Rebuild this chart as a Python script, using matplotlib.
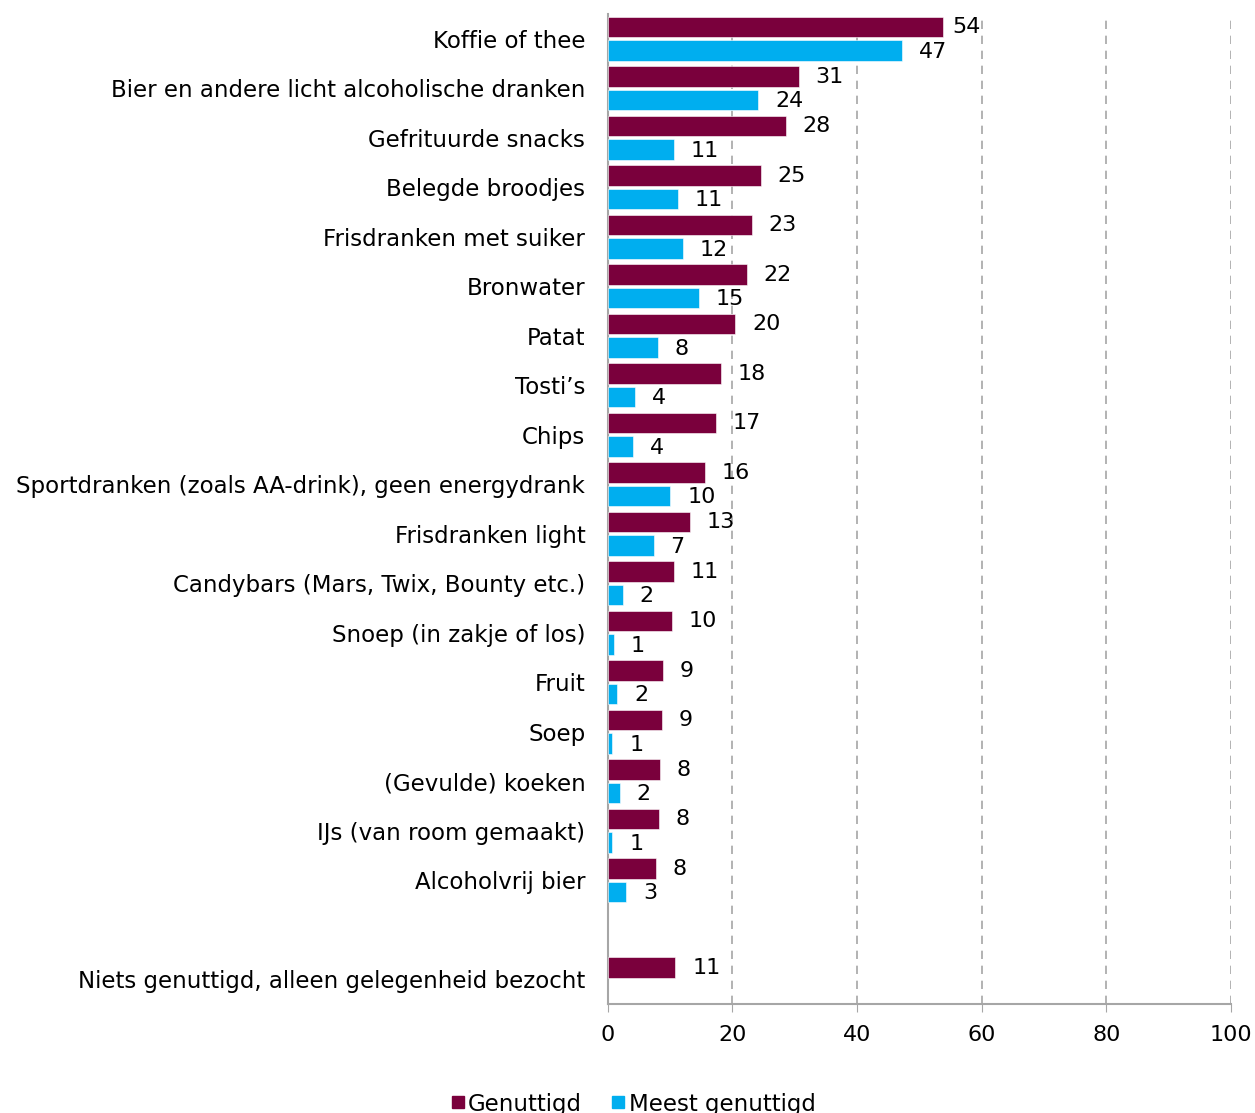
import numpy as np
import matplotlib
matplotlib.use("Agg")
import matplotlib.pyplot as plt
from matplotlib.lines import Line2D

# Data
categories = [
    "Koffie of thee",
    "Bier en andere licht alcoholische dranken",
    "Gefrituurde snacks",
    "Belegde broodjes",
    "Frisdranken met suiker",
    "Bronwater",
    "Patat",
    "Tosti\u2019s",
    "Chips",
    "Sportdranken (zoals AA-drink), geen energydrank",
    "Frisdranken light",
    "Candybars (Mars, Twix, Bounty etc.)",
    "Snoep (in zakje of los)",
    "Fruit",
    "Soep",
    "(Gevulde) koeken",
    "IJs (van room gemaakt)",
    "Alcoholvrij bier",
    "",
    "Niets genuttigd, alleen gelegenheid bezocht",
]
genuttigd = [53.8, 30.7, 28.6, 24.6, 23.1, 22.4, 20.5, 18.2, 17.4, 15.6,
             13.2, 10.6, 10.3, 8.9, 8.8, 8.4, 8.2, 7.8, np.nan, 10.9]
meest = [47.3, 24.2, 10.6, 11.3, 12.1, 14.6, 8.1, 4.4, 4.1, 10.1,
         7.4, 2.5, 1.0, 1.6, 0.8, 2.0, 0.8, 3.0, np.nan, np.nan]
labels_g = ["54", "31", "28", "25", "23", "22", "20", "18", "17", "16",
            "13", "11", "10", "9", "9", "8", "8", "8", "", "11"]
labels_m = ["47", "24", "11", "11", "12", "15", "8", "4", "4", "10",
            "7", "2", "1", "2", "1", "2", "1", "3", "", ""]

col_g = "#7A003C"
col_m = "#00AEEF"
grid_col = "#A6A6A6"

plt.rcParams["font.family"] = ["DejaVu Sans"]

fig = plt.figure(figsize=(12.55, 11.13), dpi=100)
ax = fig.add_axes([607.5 / 1255, 1 - 1004 / 1113, (1231 - 607.5) / 1255, (1004 - 14) / 1113])

y = np.arange(len(categories))
h = 0.41
off = 0.235
ax.barh(y - off, genuttigd, height=h, color=col_g, edgecolor="white", linewidth=0.4, zorder=3)
ax.barh(y + off, meest, height=h, color=col_m, edgecolor="white", linewidth=0.4, zorder=3)

for i in range(len(categories)):
    if labels_g[i]:
        dx = 7 if genuttigd[i] > 50 else 12
        ax.annotate(labels_g[i], (genuttigd[i], y[i] - off), xytext=(dx, 0),
                    textcoords="offset points", va="center", ha="left", fontsize=16)
    if labels_m[i]:
        ax.annotate(labels_m[i], (meest[i], y[i] + off), xytext=(12, -1),
                    textcoords="offset points", va="center", ha="left", fontsize=16)

ax.set_xlim(0, 100)
ax.set_ylim(len(categories) - 0.5, -0.5)
ax.set_xticks(range(0, 101, 20))
ax.set_yticks(y)
ax.set_yticklabels(categories, fontsize=16.5)
ax.tick_params(axis="y", length=0, pad=16)
ax.tick_params(axis="x", length=6, color=grid_col, labelsize=16, pad=9)

for xv in range(20, 101, 20):
    ax.axvline(xv, color=grid_col, linestyle=(0, (5, 4)), linewidth=1.2, zorder=1)

for s in ["top", "right"]:
    ax.spines[s].set_visible(False)
ax.spines["left"].set_color(grid_col)
ax.spines["bottom"].set_color(grid_col)
ax.spines["left"].set_linewidth(1.5)
ax.spines["bottom"].set_linewidth(1.5)

handles = [
    Line2D([], [], marker="s", linestyle="", color=col_g, markersize=9),
    Line2D([], [], marker="s", linestyle="", color=col_m, markersize=9),
]
fig.legend(handles, ["Genuttigd", "Meest genuttigd"], loc="center",
           bbox_to_anchor=(632 / 1255, 1 - 1104 / 1113), ncol=2, frameon=False,
           fontsize=16.5, handletextpad=0.05, columnspacing=1.2, handlelength=0.8)

fig.savefig("out.png", dpi=100)
